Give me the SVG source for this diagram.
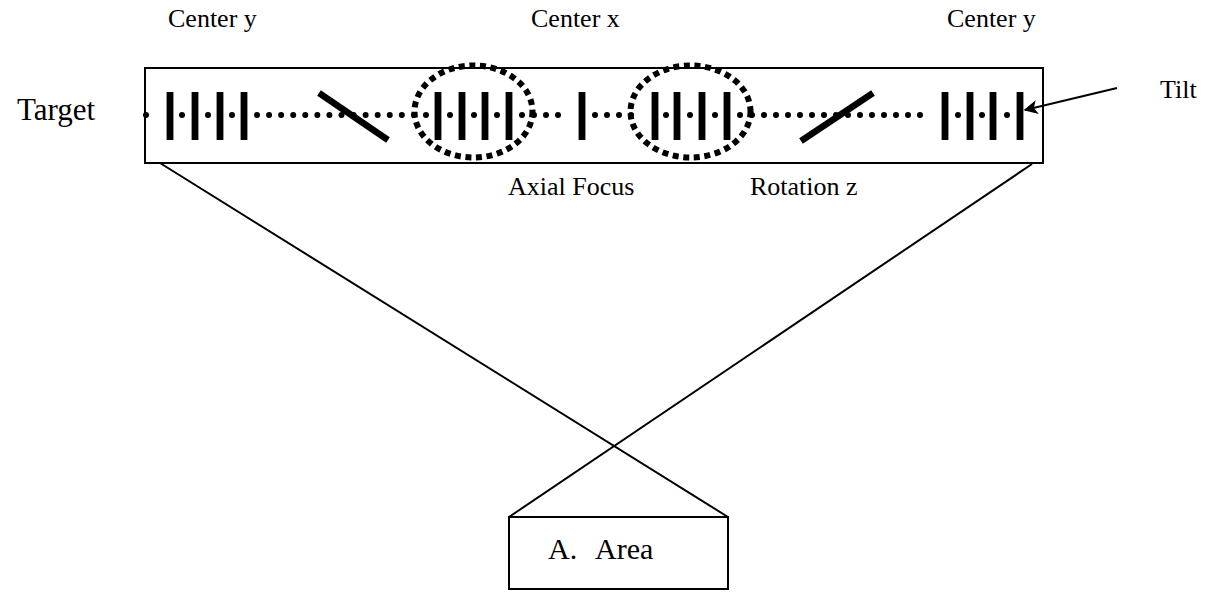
<svg xmlns="http://www.w3.org/2000/svg" width="1209" height="592" viewBox="0 0 1209 592">
  <style>
    .lbl { font-family: "Liberation Serif", "Times New Roman", serif; font-size: 26px; fill: #000; }
    .box { fill: #fff; stroke: #000; stroke-width: 2; }
    .bar { fill: #000; }
    .slash { stroke: #000; stroke-width: 6.5; stroke-linecap: butt; }
    .dots { stroke: #000; stroke-width: 6; stroke-linecap: round; fill: none; }
    .ring { fill: none; stroke: #000; stroke-width: 6; stroke-dasharray: 6 4.6; }
    .edge { stroke: #000; stroke-width: 2; fill: none; }
  </style>
  <defs>
    <marker id="head" viewBox="0 0 10 10" refX="9" refY="5" markerWidth="7" markerHeight="7" orient="auto" markerUnits="strokeWidth">
      <path d="M0,0 L10,5 L0,10 L2.5,5 Z" fill="#000"/>
    </marker>
    <rect id="b" class="bar" x="-3.4" y="92" width="6.8" height="48"/>
  </defs>

  <rect width="1209" height="592" fill="#fff"/>

  <!-- parameter labels above the target strip -->
  <g id="labels-top">
    <text class="lbl" x="168" y="27">Center y</text>
    <text class="lbl" x="531" y="27">Center x</text>
    <text class="lbl" x="947" y="27">Center y</text>
  </g>

  <!-- target strip -->
  <g id="target">
    <text class="lbl" x="17" y="120" style="font-size:31px">Target</text>
    <rect class="box" x="145" y="68" width="898" height="95"/>

    <!-- dotted axis -->
    <g id="axis-dots" fill="#000">
      <line class="dots" x1="146" y1="115" x2="158" y2="115" stroke-dasharray="0 12"/>
      <line class="dots" x1="257" y1="115" x2="426" y2="115" stroke-dasharray="0 12.07"/>
      <line class="dots" x1="522" y1="115" x2="570" y2="115" stroke-dasharray="0 12"/>
      <line class="dots" x1="595" y1="115" x2="643" y2="115" stroke-dasharray="0 12"/>
      <line class="dots" x1="740" y1="115" x2="932" y2="115" stroke-dasharray="0 12"/>
      <circle cx="182" cy="115" r="3"/>
      <circle cx="208" cy="115" r="3"/>
      <circle cx="232" cy="115" r="3"/>
      <circle cx="450" cy="115" r="3"/>
      <circle cx="474" cy="115" r="3"/>
      <circle cx="497" cy="115" r="3"/>
      <circle cx="666" cy="115" r="3"/>
      <circle cx="690" cy="115" r="3"/>
      <circle cx="715" cy="115" r="3"/>
      <circle cx="958" cy="115" r="3"/>
      <circle cx="982" cy="115" r="3"/>
      <circle cx="1007" cy="115" r="3"/>
    </g>

    <!-- element groups -->
    <g id="group-left">
      <use href="#b" x="170"/><use href="#b" x="195"/><use href="#b" x="220"/><use href="#b" x="244"/>
    </g>
    <line id="tilt-left" class="slash" x1="319" y1="93" x2="388" y2="140"/>
    <g id="group-center">
      <use href="#b" x="438"/><use href="#b" x="462"/><use href="#b" x="485"/><use href="#b" x="509"/>
      <ellipse class="ring" cx="473.5" cy="111.5" rx="59" ry="46"/>
    </g>
    <use id="single" href="#b" x="582"/>
    <g id="group-focus">
      <use href="#b" x="655"/><use href="#b" x="677"/><use href="#b" x="702"/><use href="#b" x="727"/>
      <ellipse class="ring" cx="690.5" cy="111.5" rx="60" ry="46"/>
    </g>
    <line id="tilt-right" class="slash" x1="801" y1="141" x2="873" y2="93"/>
    <g id="group-right">
      <use href="#b" x="945"/><use href="#b" x="970"/><use href="#b" x="993"/><use href="#b" x="1020"/>
    </g>
  </g>

  <!-- labels below the strip -->
  <g id="labels-bottom">
    <text class="lbl" x="508" y="195">Axial Focus</text>
    <text class="lbl" x="750" y="195">Rotation z</text>
  </g>

  <!-- tilt callout -->
  <g id="tilt">
    <text class="lbl" x="1160" y="98">Tilt</text>
  </g>

  <!-- area box -->
  <g id="area">
    <rect class="box" x="509" y="517" width="219" height="72"/>
    <text class="lbl" y="559" style="font-size:30px"><tspan x="548">A.</tspan><tspan x="595">Area</tspan></text>
  </g>

  <!-- connectors -->
  <g id="connectors">
    <line class="edge" x1="160" y1="163" x2="728" y2="517"/>
    <line class="edge" x1="1032" y1="164" x2="509" y2="517"/>
    <line class="edge" x1="1117" y1="88" x2="1025" y2="110" marker-end="url(#head)"/>
  </g>
</svg>
